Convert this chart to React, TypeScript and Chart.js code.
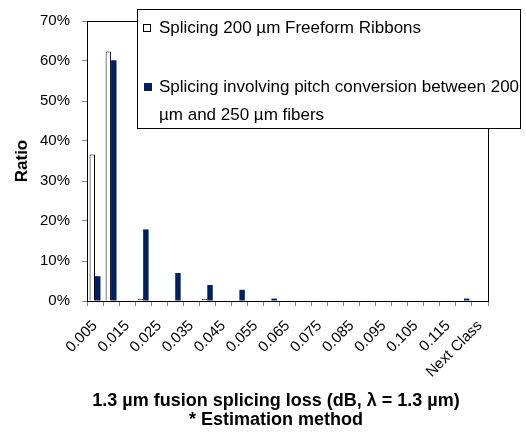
import React, { useEffect, useRef } from "react";
import { Chart, registerables } from "chart.js";

Chart.register(...registerables);

const categories = [
  "0.005", "0.01", "0.015", "0.02", "0.025", "0.03", "0.035", "0.04", "0.045", "0.05",
  "0.055", "0.06", "0.065", "0.07", "0.075", "0.08", "0.085", "0.09", "0.095", "0.1",
  "0.105", "0.11", "0.115", "0.12", "Next Class",
];
const tickLabels = [
  "0.005", "", "0.015", "", "0.025", "", "0.035", "", "0.045", "", "0.055", "", "0.065", "",
  "0.075", "", "0.085", "", "0.095", "", "0.105", "", "0.115", "", "Next Class",
];
const freeformValues = [
  0.366, 0.624, null, 0.005, null, null, null, 0.005, null, null, null, null, null, null,
  null, null, null, null, null, null, null, null, null, null, null,
];
const pitchValues = [
  0.062, 0.602, null, 0.179, null, 0.07, null, 0.04, null, 0.028, null, 0.006, null, null,
  null, null, null, null, null, null, null, null, null, 0.006, null,
];
const seriesLabels = [
  "Splicing 200 µm Freeform Ribbons",
  "Splicing involving pitch conversion between 200 µm and 250 µm fibers",
];
const legendLines = [
  ["Splicing 200 µm Freeform Ribbons"],
  ["Splicing involving pitch conversion between 200", "µm and 250 µm fibers"],
];
const yTicks = [0, 0.1, 0.2, 0.3, 0.4, 0.5, 0.6, 0.7];
const xTitleLines = ["1.3 µm fusion splicing loss (dB, λ = 1.3 µm)", "* Estimation method"];
const yTitle = "Ratio";

const NAVY = "#002060";
const FONT = "Arial, 'Liberation Sans', sans-serif";

const overlayPlugin = {
  id: "overlay",
  afterDraw(chart: any) {
    const { ctx, chartArea } = chart;
    ctx.save();
    // plot frame
    ctx.strokeStyle = "#000";
    ctx.lineWidth = 1;
    ctx.strokeRect(
      Math.round(chartArea.left) + 0.5,
      Math.round(chartArea.top) + 0.5,
      Math.round(chartArea.right - chartArea.left),
      Math.round(chartArea.bottom - chartArea.top)
    );
    // legend box
    const lx = 137, ly = 9, lw = 383, lh = 119;
    ctx.fillStyle = "#fff";
    ctx.fillRect(lx, ly, lw, lh);
    ctx.strokeStyle = "#000";
    ctx.lineWidth = 1;
    ctx.strokeRect(lx + 0.5, ly + 0.5, lw, lh);
    ctx.font = `17px ${FONT}`;
    ctx.textBaseline = "middle";
    ctx.textAlign = "left";
    // item 1
    ctx.fillStyle = "#fff";
    ctx.fillRect(143, 24, 8, 8);
    ctx.strokeStyle = "#000";
    ctx.strokeRect(143.5, 24.5, 7, 7);
    ctx.fillStyle = "#000";
    ctx.fillText(legendLines[0][0], 159, 28);
    // item 2
    ctx.fillStyle = NAVY;
    ctx.fillRect(144, 83, 8, 8);
    ctx.fillStyle = "#000";
    ctx.fillText(legendLines[1][0], 159, 87);
    ctx.fillText(legendLines[1][1], 159, 115);
    // x title
    ctx.font = `bold 18px ${FONT}`;
    ctx.textAlign = "center";
    ctx.fillText(xTitleLines[0], 276, 401);
    ctx.fillText(xTitleLines[1], 276, 420);
    ctx.restore();
  },
};

export default function App() {
  const ref = useRef<HTMLCanvasElement>(null);
  useEffect(() => {
    document.body.style.margin = "0";
    const chart = new Chart(ref.current as HTMLCanvasElement, {
      type: "bar",
      data: {
        labels: categories,
        datasets: [
          {
            label: seriesLabels[0],
            data: freeformValues as any,
            backgroundColor: "#fff",
            borderColor: "#000",
            borderWidth: 1,
            categoryPercentage: 0.68,
            barPercentage: 1.0,
          },
          {
            label: seriesLabels[1],
            data: pitchValues as any,
            backgroundColor: NAVY,
            borderWidth: 0,
            categoryPercentage: 0.68,
            barPercentage: 1.0,
          },
        ],
      },
      options: {
        responsive: false,
        animation: false,
        devicePixelRatio: 1,
        layout: { padding: { left: 0, top: 13, right: 38, bottom: 0 } },
        plugins: {
          legend: { display: false },
          tooltip: { enabled: false },
        },
        scales: {
          x: {
            grid: {
              display: true,
              drawOnChartArea: false,
              offset: true,
              tickLength: 5,
              color: "#888",
            },
            border: { display: true, color: "#000" },
            ticks: {
              autoSkip: false,
              minRotation: 45,
              maxRotation: 45,
              padding: 11,
              color: "#000",
              font: { family: FONT, size: 15 },
              callback: (_v: any, i: number) => tickLabels[i],
            },
            afterFit: (s: any) => {
              s.height = 131;
            },
          },
          y: {
            min: 0,
            max: 0.7,
            afterBuildTicks: (s: any) => {
              s.ticks = yTicks.map((v) => ({ value: v }));
            },
            grid: {
              display: true,
              drawOnChartArea: false,
              tickLength: 5,
              color: "#888",
            },
            border: { display: true, color: "#000" },
            ticks: {
              padding: 12,
              color: "#000",
              font: { family: FONT, size: 15 },
              callback: (v: any) => `${Math.round(Number(v) * 100)}%`,
            },
            title: {
              display: true,
              text: yTitle,
              color: "#000",
              font: { family: FONT, size: 17, weight: "bold" },
              padding: { top: 12, bottom: 0 },
            },
            afterFit: (s: any) => {
              s.width = 87;
            },
          },
        },
      },
      plugins: [overlayPlugin],
    });
    return () => chart.destroy();
  }, []);
  return <canvas ref={ref} width={526} height={432} />;
}
